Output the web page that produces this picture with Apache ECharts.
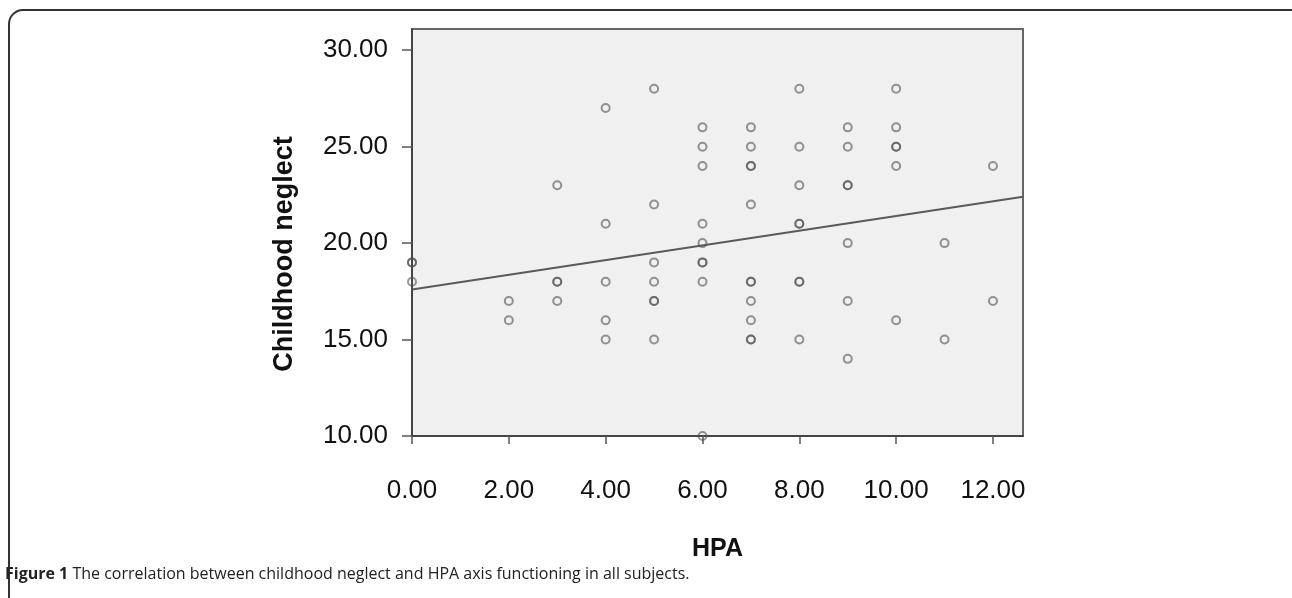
<!DOCTYPE html>
<html>
<head>
<meta charset="utf-8">
<script src="https://cdn.jsdelivr.net/npm/echarts@6/dist/echarts.min.js"></script>
<style>
  html, body { margin: 0; padding: 0; background: #fff; }
  #grafico { width: 1292px; height: 598px; }
</style>
</head>
<body>
<div id="grafico"></div>
<script>
// --- dados ---
var hpaX = [0, 0, 0,
  2, 2,
  3, 3, 3, 3,
  4, 4, 4, 4, 4,
  5, 5, 5, 5, 5, 5, 5,
  6, 6, 6, 6, 6, 6, 6, 6, 6,
  7, 7, 7, 7, 7, 7, 7, 7, 7, 7, 7,
  8, 8, 8, 8, 8, 8, 8, 8,
  9, 9, 9, 9, 9, 9, 9,
  10, 10, 10, 10, 10, 10,
  11, 11,
  12, 12];
var neglectY = [19, 19, 18,
  17, 16,
  23, 18, 18, 17,
  27, 21, 18, 16, 15,
  28, 22, 19, 18, 17, 17, 15,
  26, 25, 24, 21, 20, 19, 19, 18, 10,
  26, 25, 24, 24, 22, 18, 18, 17, 16, 15, 15,
  28, 25, 23, 21, 21, 18, 18, 15,
  26, 25, 23, 23, 20, 17, 14,
  28, 26, 25, 25, 24, 16,
  20, 15,
  24, 17];

// linha de regressão (extremos)
var linhaX = [0, 12.62];
var linhaY = [17.6, 22.4];

var xTicks = [0, 2, 4, 6, 8, 10, 12];
var yTicks = [10, 15, 20, 25, 30];

var grafico = echarts.init(document.getElementById('grafico'));

var pontos = hpaX.map(function (x, i) { return [x, neglectY[i]]; });
var linha = linhaX.map(function (x, i) { return [x, linhaY[i]]; });

var fonte = '"Liberation Sans", Arial, sans-serif';

var option = {
    animation: false,
    backgroundColor: '#fff',
    grid: {
        left: 412, top: 29, right: 269, bottom: 162,
        show: true,
        backgroundColor: '#f0f0f0',
        borderColor: '#666',
        borderWidth: 2
    },
    xAxis: {
        type: 'value',
        min: 0, max: 12.62, interval: 2,
        splitLine: { show: false },
        axisLine: { show: true, lineStyle: { color: '#444', width: 2 } },
        axisTick: { show: true, customValues: xTicks, length: 8, lineStyle: { color: '#555', width: 1.5 } },
        axisLabel: {
            customValues: xTicks,
            formatter: function (v) { return v.toFixed(2); },
            fontFamily: fonte, fontSize: 26, color: '#111', margin: 42
        },
        name: 'HPA',
        nameLocation: 'middle',
        nameGap: 101,
        nameTextStyle: { fontFamily: fonte, fontSize: 25, fontWeight: 'bold', color: '#111' }
    },
    yAxis: {
        type: 'value',
        min: 10, max: 31.1, interval: 5,
        splitLine: { show: false },
        axisLine: { show: true, lineStyle: { color: '#444', width: 2 } },
        axisTick: { show: true, customValues: yTicks, length: 10, lineStyle: { color: '#555', width: 1.5 } },
        axisLabel: {
            customValues: yTicks,
            formatter: function (v) { return v.toFixed(2); },
            fontFamily: fonte, fontSize: 26, color: '#111', margin: 24
        }
    },
    graphic: [
        {
            type: 'rect', z: -10, silent: true,
            shape: { x: 9, y: 10, width: 1320, height: 640, r: 14 },
            style: { fill: 'none', stroke: '#333', lineWidth: 2 }
        },
        {
            type: 'text', x: 285, y: 254, rotation: Math.PI / 2,
            style: {
                text: 'Childhood neglect',
                font: 'bold 27px ' + fonte,
                fill: '#111', textAlign: 'center', textVerticalAlign: 'middle'
            }
        },
        {
            type: 'text', x: 5, y: 574,
            style: {
                text: '{b|Figure 1} The correlation between childhood neglect and HPA axis functioning in all subjects.',
                font: '16px "Open Sans", sans-serif',
                fill: '#222', textVerticalAlign: 'middle',
                rich: { b: { fontWeight: 'bold', fontSize: 16, fontFamily: '"Open Sans", sans-serif', fill: '#222' } }
            }
        }
    ],
    series: [
        {
            name: 'Regressão',
            type: 'line',
            data: linha,
            symbol: 'none',
            lineStyle: { color: '#5a5a5a', width: 2 },
            z: 2
        },
        {
            name: 'Sujeitos',
            type: 'scatter',
            data: pontos,
            symbol: 'circle',
            symbolSize: 8,
            itemStyle: { color: 'rgba(0,0,0,0)', borderColor: 'rgba(80,80,80,0.75)', borderWidth: 2 },
            z: 3
        }
    ]
};
grafico.setOption(option);
</script>
</body>
</html>
